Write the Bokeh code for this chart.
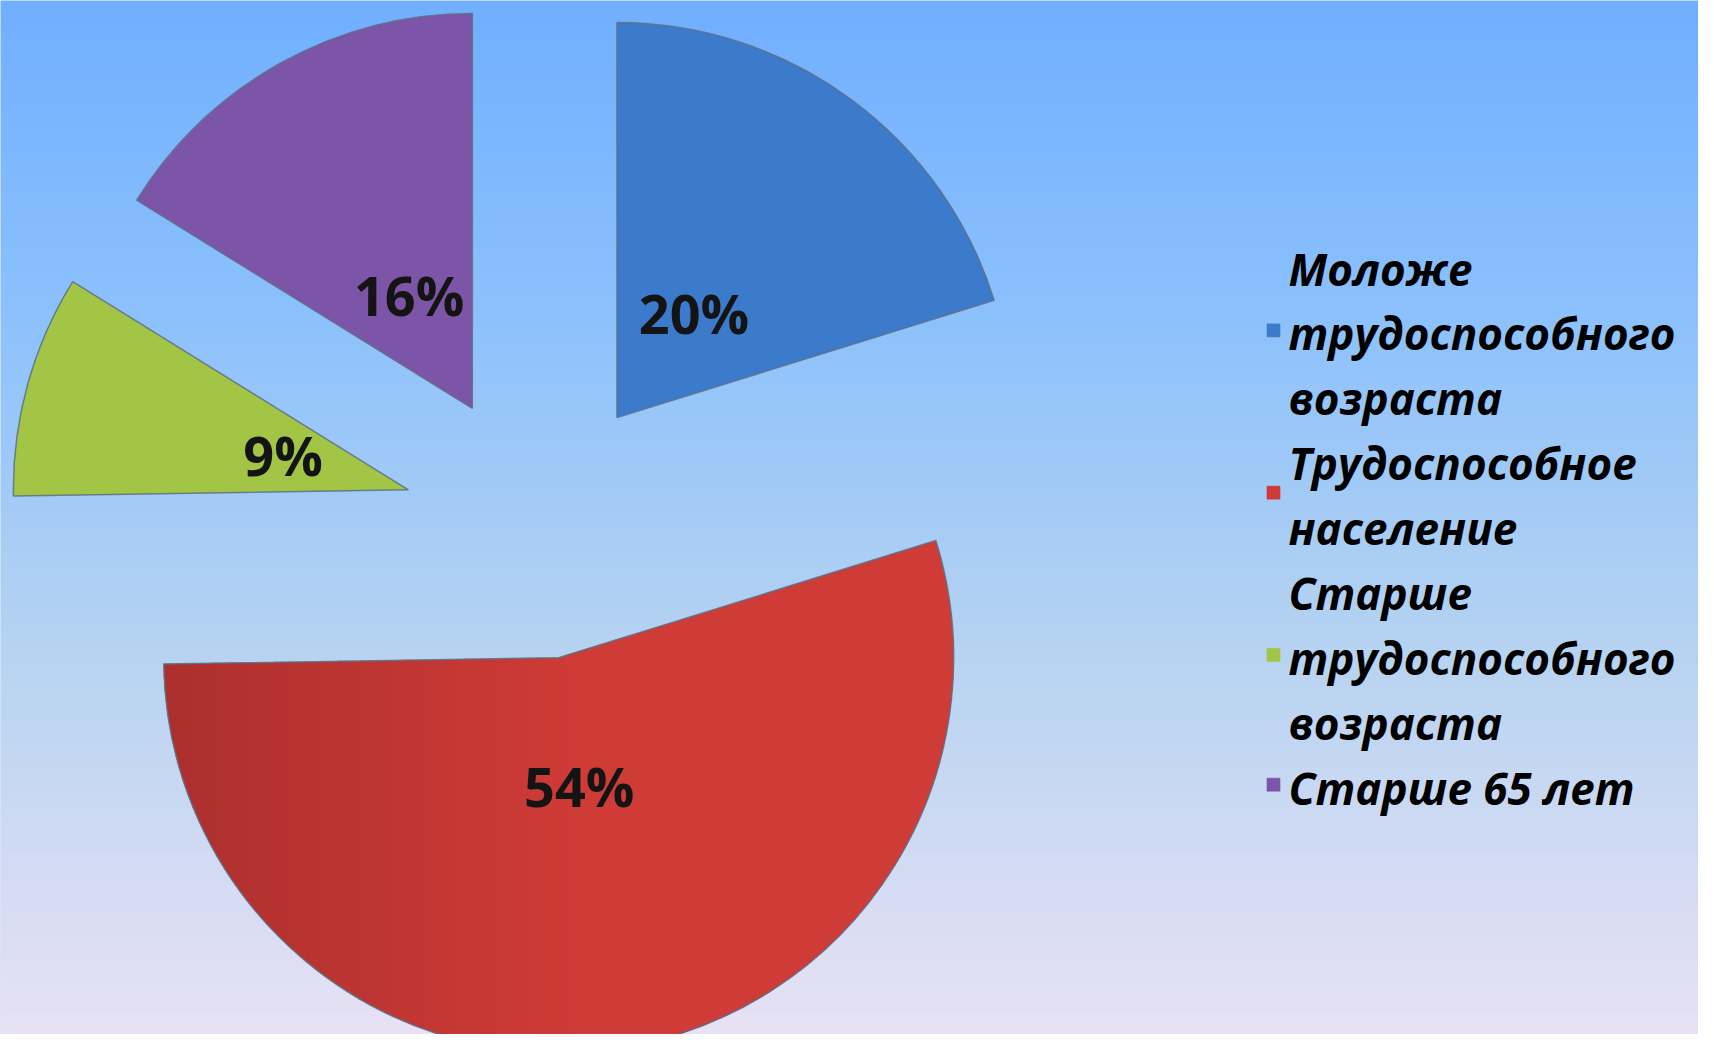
import numpy as np
from bokeh.plotting import figure
from bokeh.models import ColumnDataSource
from bokeh.core.properties import value
from bokeh.embed import file_html
from bokeh.resources import INLINE

# ---- data ----
categories = ["Моложе трудоспособного возраста", "Трудоспособное население",
              "Старше трудоспособного возраста", "Старше 65 лет"]
shares = [20, 54, 9, 16]
pct_labels = ["20%", "54%", "9%", "16%"]
colors = ["#3C7BCB", "#CF3B37", "#A2C545", "#7D55A8"]
legend_lines = [["Моложе", "трудоспособного", "возраста"],
                ["Трудоспособное", "население"],
                ["Старше", "трудоспособного", "возраста"],
                ["Старше 65 лет"]]

# ---- layout (units = pixels of the 1714x1050 reference) ----
W, H = 1698, 1034
PAGE_H = 1050
cx, cy = 537, PAGE_H - 525
R = 395
EXPLODE = 134
LABEL_OFF = 130

p = figure(width=W, height=H, output_backend="svg", toolbar_location=None,
           x_range=(0, W), y_range=(PAGE_H - H, PAGE_H), min_border=0, tools="")
p.axis.visible = False
p.grid.visible = False
p.outline_line_color = None
p.background_fill_color = "#B0CFF4"
p.border_fill_color = "#B0CFF4"

# background gradient (top blue -> bottom lavender)
stops_y = np.array([0, 300, 650, 1050], dtype=float)
stops_c = np.array([[112, 174, 255], [138, 192, 252], [182, 211, 241], [234, 226, 244]], dtype=float)
N = 260
bg = np.zeros((N, 2), dtype=np.uint32)
view = bg.view(dtype=np.uint8).reshape((N, 2, 4))
for i in range(N):
    yref = PAGE_H - (i + 0.5) * PAGE_H / N
    for k in range(3):
        view[i, :, k] = int(round(np.interp(yref, stops_y, stops_c[:, k])))
    view[i, :, 3] = 255
p.image_rgba(image=[bg], x=0, y=0, dw=W, dh=PAGE_H)

# ---- pie geometry ----
total = float(sum(shares))
cum = np.concatenate([[0.0], np.cumsum(shares)]) / total * 2 * np.pi  # clockwise from top
a0, a1 = cum[:-1], cum[1:]
mid = (a0 + a1) / 2
vx = cx + EXPLODE * np.sin(mid)
vy = cy + EXPLODE * np.cos(mid)
src = ColumnDataSource(dict(
    x=vx, y=vy,
    start=np.pi / 2 - a1, end=np.pi / 2 - a0,
    color=colors,
    lx=vx + LABEL_OFF * np.sin(mid), ly=vy + LABEL_OFF * np.cos(mid),
    lab=pct_labels,
))
p.wedge(x="x", y="y", radius=R, start_angle="start", end_angle="end",
        fill_color="color", line_color=None, source=src)

# horizontal shading of the large slice (darker on the left)
k = 1
bx0, bx1 = vx[k] - R - 2, vx[k] + R + 2
by0, by1 = vy[k] - R - 2, vy[k] + 20
nx, ny = int(bx1 - bx0), int(by1 - by0)
gx = bx0 + (np.arange(nx) + 0.5)
gy = by0 + (np.arange(ny) + 0.5)
GX, GY = np.meshgrid(gx, gy)
DX, DY = GX - vx[k], GY - vy[k]
th = np.mod(np.arctan2(DX, DY), 2 * np.pi)
inside = (np.hypot(DX, DY) <= R) & (th >= a0[k]) & (th <= a1[k])
tshade = np.clip((GX - (vx[k] - R)) / 420.0, 0, 1)
dark = np.array([172, 47, 45], dtype=float)
base = np.array([207, 59, 55], dtype=float)
shade = np.zeros((ny, nx), dtype=np.uint32)
sv = shade.view(dtype=np.uint8).reshape((ny, nx, 4))
for c in range(3):
    sv[:, :, c] = np.round(dark[c] + (base[c] - dark[c]) * tshade).astype(np.uint8)
sv[:, :, 3] = np.where(inside, 255, 0).astype(np.uint8)
p.image_rgba(image=[shade], x=bx0, y=by0, dw=nx, dh=ny)

p.wedge(x="x", y="y", radius=R, start_angle="start", end_angle="end",
        fill_color=None, line_color="#5E6E85", line_width=1.5, line_alpha=0.85, source=src)
p.text(x="lx", y="ly", text="lab", source=src, text_font=value("Open Sans"),
       text_font_style="bold", text_font_size="54px", text_color="#141414",
       text_align="center", text_baseline="middle")

# ---- legend ----
LEG_X = 1288
LEG_TOP = 268
LEG_STEP = 64.9
tx, ty, tt = [], [], []
mx, my, mc = [], [], []
line_i = 0
for lines, c in zip(legend_lines, colors):
    first = line_i
    for t in lines:
        tx.append(LEG_X)
        ty.append(PAGE_H - (LEG_TOP + line_i * LEG_STEP))
        tt.append(t)
        line_i += 1
    center_line = (first + line_i - 1) / 2
    mx.append(LEG_X - 15)
    my.append(PAGE_H - (LEG_TOP + center_line * LEG_STEP - 3))
    mc.append(c)

p.text(x=tx, y=ty, text=tt, text_font=value("Open Sans"), text_font_style="bold italic",
       text_font_size="44px", text_color="#000000", text_align="left", text_baseline="middle")
p.scatter(x=mx, y=my, marker="square", size=13, fill_color=mc, line_color=mc, line_alpha=0.6)

open("out.html", "w").write(file_html(p, INLINE))
